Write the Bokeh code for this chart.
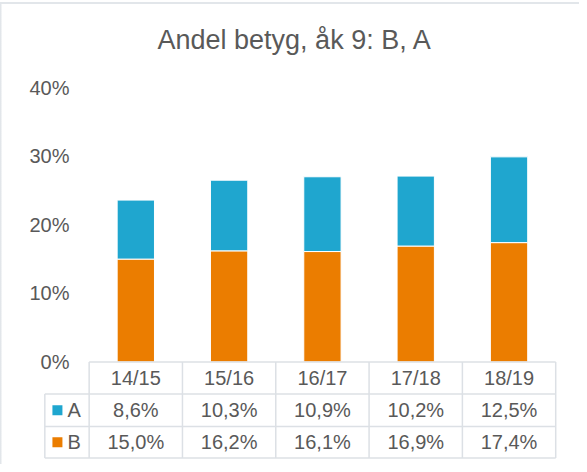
from bokeh.plotting import figure
from bokeh.models import FixedTicker, PrintfTickFormatter, ColumnDataSource, Range1d
from bokeh.embed import file_html
from bokeh.resources import INLINE
from bokeh.core.properties import value

# ---- data ----
title_text = "Andel betyg, åk 9: B, A"
categories = ["14/15", "15/16", "16/17", "17/18", "18/19"]
values_A = [8.6, 10.3, 10.9, 10.2, 12.5]
values_B = [15.0, 16.2, 16.1, 16.9, 17.4]
series_names = ["A", "B"]
y_ticks = [0, 10, 20, 30, 40]

# ---- style ----
COL_A = "#1FA6CF"
COL_B = "#EB7D00"
TEXT = "#595959"
GRID = "#DCE0E5"
FONT = "Liberation Sans"

n = len(categories)
xs = list(range(n))

# layout constants (data units)
X_LO, X_HI = -1.0, n - 0.47
Y_LO, Y_HI = -14.36, 41.47
LEG_LEFT = -0.975
ROW_LINES = [0.0, -4.66, -9.40, -13.99]
ROW_MID = [(ROW_LINES[i] + ROW_LINES[i + 1]) / 2 for i in range(3)]

p = figure(width=579, height=464, x_range=Range1d(X_LO, X_HI), y_range=Range1d(Y_LO, Y_HI),
           output_backend="svg", toolbar_location=None, x_axis_location=None,
           min_border_left=42, min_border_right=21, min_border_top=77, min_border_bottom=4)
p.background_fill_color = None
p.border_fill_color = None
p.outline_line_color = None
p.xgrid.visible = False
p.ygrid.visible = False
p.styles = {
    "background": "linear-gradient(#E2E6EA,#E2E6EA) 0 2px / 100% 2px no-repeat, "
                  "linear-gradient(#E2E6EA,#E2E6EA) 0 2px / 1.5px 100% no-repeat"
}

# title
p.title.text = title_text
p.title.align = "left"
p.title.offset = 115
p.title.standoff = 45
p.title.text_font = FONT
p.title.text_font_size = "27px"
p.title.text_font_style = "normal"
p.title.text_color = TEXT

# y axis
ax = p.yaxis[0]
ax.ticker = FixedTicker(ticks=y_ticks)
ax.formatter = PrintfTickFormatter(format="%d%%")
ax.axis_line_color = None
ax.major_tick_line_color = None
ax.minor_tick_line_color = None
ax.major_tick_out = 0
ax.major_tick_in = 0
ax.major_label_standoff = -27
ax.major_label_text_font = FONT
ax.major_label_text_font_size = "20px"
ax.major_label_text_color = TEXT

# bars
src = ColumnDataSource(dict(x=xs, A=values_A, B=values_B))
p.vbar_stack(["B", "A"], x="x", width=0.4, color=[COL_B, COL_A], source=src,
             line_color="white", line_width=1)

# data table lines
hx0, hx1, hy = [], [], []
for i, yl in enumerate(ROW_LINES):
    hx0.append(-0.5 if i == 0 else LEG_LEFT)
    hx1.append(n - 0.5)
    hy.append(yl)
p.segment(x0=hx0, y0=hy, x1=hx1, y1=hy, line_color=GRID, line_width=1.5)
vx = [LEG_LEFT] + [k - 0.5 for k in range(n + 1)]
vy0 = [ROW_LINES[1]] + [ROW_LINES[0]] * (n + 1)
vy1 = [ROW_LINES[3]] * (n + 2)
p.segment(x0=vx, y0=vy0, x1=vx, y1=vy1, line_color=GRID, line_width=1.5)

def fmt(v):
    return f"{v:.1f}".replace(".", ",") + "%"

txt_kw = dict(text_font=value(FONT), text_font_size="20px", text_color=TEXT,
              text_baseline="middle")
p.text(x=xs, y=[ROW_MID[0]] * n, text=categories, text_align="center", **txt_kw)
p.text(x=xs, y=[ROW_MID[1]] * n, text=[fmt(v) for v in values_A], text_align="center", **txt_kw)
p.text(x=xs, y=[ROW_MID[2]] * n, text=[fmt(v) for v in values_B], text_align="center", **txt_kw)

# legend keys in the table
p.scatter(x=[LEG_LEFT + 0.135] * 2, y=[ROW_MID[1], ROW_MID[2]], marker="square", size=10,
          fill_color=[COL_A, COL_B], line_color=None)
p.text(x=[LEG_LEFT + 0.242] * 2, y=[ROW_MID[1], ROW_MID[2]], text=series_names,
       text_align="left", **txt_kw)

open("out.html", "w").write(file_html(p, INLINE))
